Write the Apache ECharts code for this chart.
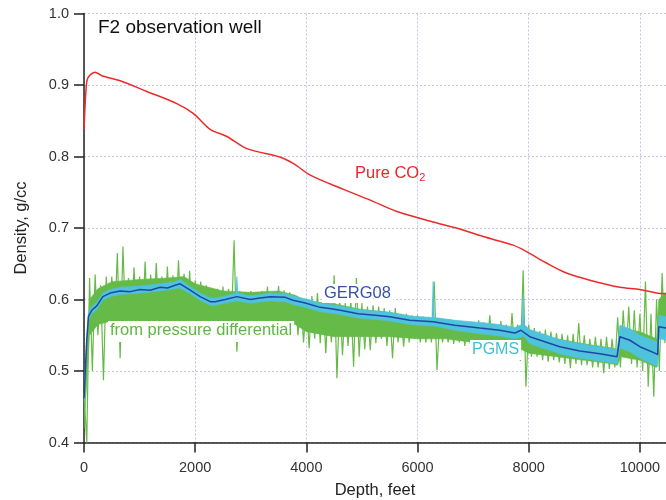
<!DOCTYPE html>
<html>
<head>
<meta charset="utf-8">
<script src="https://cdn.jsdelivr.net/npm/echarts@6/dist/echarts.min.js"></script>
<style>
html,body{margin:0;padding:0;background:#fff;}
#main{width:666px;height:500px;}
</style>
</head>
<body>
<div id="main"></div>
<script>
// Pure CO2 curve (depth ft, density g/cc)
var co2Depth = [0, 36, 70, 200, 320, 650, 1130, 1670, 1970, 2270, 2570, 2930, 3530, 3770, 4070, 4670, 5150, 5630, 6350, 6700, 7180, 7720, 7960, 8320, 8680, 9100, 9640, 10000, 10300, 10470];
var co2Density = [0.837, 0.893, 0.910, 0.918, 0.913, 0.906, 0.891, 0.874, 0.860, 0.838, 0.828, 0.811, 0.799, 0.790, 0.774, 0.754, 0.739, 0.723, 0.707, 0.700, 0.688, 0.676, 0.667, 0.651, 0.637, 0.627, 0.617, 0.614, 0.609, 0.608];

// GERG08
var gergDepth = [0, 50, 80, 140, 230, 340, 470, 650, 830, 1010, 1190, 1370, 1500, 1640, 1730, 1910, 2090, 2270, 2360, 2540, 2750, 2990, 3170, 3350, 3620, 3760, 3980, 4250, 4450, 4610, 4930, 5240, 5500, 5860, 6280, 6670, 7120, 7480, 7750, 7860, 8020, 8290, 8560, 8920, 9280, 9590, 9640, 9820, 10000, 10270, 10320, 10340, 10470];
var gergDensity = [0.462, 0.543, 0.576, 0.585, 0.591, 0.604, 0.609, 0.612, 0.611, 0.614, 0.613, 0.617, 0.616, 0.620, 0.622, 0.613, 0.604, 0.597, 0.597, 0.600, 0.604, 0.600, 0.602, 0.604, 0.603, 0.599, 0.595, 0.589, 0.587, 0.585, 0.580, 0.578, 0.576, 0.571, 0.569, 0.564, 0.560, 0.557, 0.553, 0.557, 0.548, 0.541, 0.534, 0.528, 0.524, 0.520, 0.548, 0.543, 0.534, 0.525, 0.523, 0.562, 0.560];

// PGMS band (low / high edge)
var pgmsDepth = [0, 50, 80, 140, 230, 340, 470, 650, 1010, 1370, 1640, 1730, 1910, 2090, 2270, 2360, 2540, 2730, 2750, 2770, 2990, 3350, 3620, 3760, 3980, 4250, 4610, 4930, 5240, 5500, 5860, 6260, 6280, 6300, 6670, 7120, 7480, 7750, 7880, 7900, 7920, 8020, 8290, 8560, 8920, 9280, 9590, 9640, 9820, 10000, 10270, 10320, 10340, 10470];
var pgmsLow = [0.455, 0.535, 0.570, 0.580, 0.586, 0.599, 0.604, 0.607, 0.609, 0.612, 0.615, 0.616, 0.608, 0.599, 0.592, 0.592, 0.595, 0.598, 0.598, 0.598, 0.595, 0.598, 0.597, 0.593, 0.589, 0.583, 0.579, 0.574, 0.572, 0.570, 0.565, 0.563, 0.563, 0.563, 0.557, 0.552, 0.549, 0.545, 0.548, 0.548, 0.548, 0.538, 0.531, 0.524, 0.518, 0.514, 0.510, 0.532, 0.527, 0.518, 0.508, 0.506, 0.545, 0.543];
var pgmsHigh = [0.468, 0.550, 0.582, 0.590, 0.596, 0.609, 0.614, 0.617, 0.619, 0.622, 0.625, 0.628, 0.618, 0.609, 0.602, 0.602, 0.605, 0.609, 0.632, 0.609, 0.605, 0.609, 0.608, 0.605, 0.601, 0.595, 0.591, 0.586, 0.584, 0.582, 0.577, 0.575, 0.625, 0.575, 0.571, 0.568, 0.565, 0.561, 0.565, 0.604, 0.565, 0.558, 0.551, 0.544, 0.538, 0.534, 0.530, 0.564, 0.559, 0.550, 0.542, 0.540, 0.578, 0.576];

// from pressure differential: dense core of the noise band
var coreDepth = [0, 100, 250, 500, 1000, 1500, 1800, 2000, 2500, 3000, 3500, 3800, 4000, 4500, 5000, 5500, 6000, 6500, 7000, 7500, 7800, 8000, 8500, 9000, 9500, 9600, 9650, 10000, 10300, 10340, 10470];
var coreHigh = [0.46, 0.60, 0.615, 0.625, 0.628, 0.63, 0.632, 0.622, 0.612, 0.61, 0.612, 0.606, 0.598, 0.594, 0.586, 0.582, 0.575, 0.572, 0.566, 0.562, 0.558, 0.552, 0.545, 0.538, 0.532, 0.53, 0.56, 0.555, 0.545, 0.60, 0.61];
var coreLow = [0.42, 0.55, 0.565, 0.57, 0.57, 0.57, 0.57, 0.57, 0.57, 0.57, 0.57, 0.565, 0.555, 0.548, 0.548, 0.548, 0.545, 0.545, 0.54, 0.537, 0.533, 0.525, 0.52, 0.515, 0.51, 0.508, 0.52, 0.515, 0.505, 0.545, 0.55];

// from pressure differential: upper / lower swing every 100 ft
var greenStep = 100;
var greenHi = [
	0.47, 0.63, 0.635, 0.62, 0.632, 0.632, 0.665, 0.674, 0.63, 0.645,
	0.632, 0.653, 0.635, 0.651, 0.632, 0.646, 0.634, 0.655, 0.636, 0.64,
	0.627, 0.625, 0.62, 0.615, 0.615, 0.618, 0.615, 0.683, 0.612, 0.61,
	0.612, 0.608, 0.612, 0.618, 0.61, 0.619, 0.613, 0.61, 0.605, 0.60,
	0.60, 0.605, 0.609, 0.60, 0.605, 0.634, 0.60, 0.595, 0.60, 0.63,
	0.595, 0.59, 0.592, 0.59, 0.588, 0.585, 0.588, 0.58, 0.58, 0.578,
	0.578, 0.576, 0.575, 0.625, 0.574, 0.572, 0.572, 0.57, 0.57, 0.568,
	0.568, 0.571, 0.568, 0.578, 0.565, 0.57, 0.565, 0.581, 0.565, 0.641,
	0.565, 0.56, 0.556, 0.558, 0.555, 0.553, 0.552, 0.55, 0.552, 0.567,
	0.55, 0.545, 0.548, 0.545, 0.548, 0.545, 0.575, 0.585, 0.59, 0.585,
	0.58, 0.625, 0.58, 0.60, 0.637
];
var greenLo = [
	0.40, 0.50, 0.55, 0.487, 0.56, 0.565, 0.518, 0.565, 0.565, 0.56,
	0.565, 0.56, 0.565, 0.565, 0.56, 0.565, 0.565, 0.565, 0.56, 0.565,
	0.565, 0.56, 0.565, 0.565, 0.56, 0.565, 0.56, 0.527, 0.565, 0.56,
	0.565, 0.56, 0.565, 0.56, 0.565, 0.56, 0.56, 0.555, 0.55, 0.54,
	0.532, 0.545, 0.539, 0.525, 0.54, 0.49, 0.522, 0.535, 0.506, 0.52,
	0.53, 0.529, 0.539, 0.545, 0.535, 0.518, 0.54, 0.534, 0.54, 0.545,
	0.54, 0.54, 0.54, 0.501, 0.54, 0.54, 0.538, 0.54, 0.535, 0.538,
	0.535, 0.535, 0.532, 0.53, 0.53, 0.528, 0.525, 0.52, 0.514, 0.478,
	0.52, 0.52, 0.515, 0.513, 0.515, 0.512, 0.51, 0.504, 0.51, 0.508,
	0.508, 0.505, 0.505, 0.497, 0.503, 0.505, 0.505, 0.52, 0.51, 0.505,
	0.50, 0.478, 0.464, 0.50, 0.539
];

var xTicks = [0, 2000, 4000, 6000, 8000, 10000];
var yTicks = [0.4, 0.5, 0.6, 0.7, 0.8, 0.9, 1.0];

var FONT = 'Liberation Sans, Arial, Helvetica, sans-serif';
var GREEN = '#66bb48';
var CYAN = '#4fc3dc';

function pairs(xs, ys){
	var out = [];
	for(var i = 0; i < xs.length; i++){
		out.push([xs[i], ys[i]]);
	}
	return out;
}

// zigzag between the upper and lower swing
var greenData = [];
for(var i = 0; i < greenHi.length; i++){
	greenData.push([i * greenStep, greenHi[i]]);
	greenData.push([i * greenStep + greenStep / 2, greenLo[i]]);
}

// band drawn as one polygon: high edge forward, low edge back
function bandRenderer(xs, hi, lo, color){
	return function(params, api){
		var pts = [];
		for(var k = 0; k < xs.length; k++){
			pts.push(api.coord([xs[k], hi[k]]));
		}
		for(var m = xs.length - 1; m >= 0; m--){
			pts.push(api.coord([xs[m], lo[m]]));
		}
		return {
			type: 'polygon',
			shape: {points: pts},
			style: {fill: color, stroke: color, lineWidth: 0.6}
		};
	};
}

var chart = echarts.init(document.getElementById('main'));

var option = {
	backgroundColor: '#fff',
	animation: false,
	grid: {left: 84, right: 0, top: 13.5, bottom: 57.5, containLabel: false, outerBoundsMode: 'none'},
	xAxis: {
		type: 'value',
		min: 0,
		max: 10470,
		interval: 2000,
		name: 'Depth, feet',
		nameLocation: 'middle',
		nameGap: 39,
		nameTextStyle: {fontFamily: FONT, fontSize: 16.5, color: '#222'},
		axisLine: {lineStyle: {color: '#222', width: 1.5}},
		axisTick: {show: true, inside: false, length: 10, lineStyle: {color: '#222', width: 1.5}},
		axisLabel: {
			fontFamily: FONT, fontSize: 14.5, color: '#333', margin: 18,
			showMaxLabel: false,
			formatter: function(v){ return xTicks.indexOf(v) >= 0 ? String(v) : ''; }
		},
		splitLine: {show: true, lineStyle: {color: '#c4c4e6', type: [2, 2], width: 1}}
	},
	yAxis: {
		type: 'value',
		min: 0.4,
		max: 1.0,
		interval: 0.1,
		name: 'Density, g/cc',
		nameLocation: 'middle',
		nameGap: 54,
		nameTextStyle: {fontFamily: FONT, fontSize: 16.5, color: '#222'},
		axisLine: {show: true, lineStyle: {color: '#222', width: 1.5}},
		axisTick: {show: true, inside: false, length: 10, lineStyle: {color: '#222', width: 1.5}},
		axisLabel: {
			fontFamily: FONT, fontSize: 14.5, color: '#333', margin: 15,
			formatter: function(v){ return v.toFixed(1); }
		},
		splitLine: {show: true, lineStyle: {color: '#c4c4e6', type: [2, 2], width: 1}}
	},
	series: [
		{
			name: 'core',
			type: 'custom',
			renderItem: bandRenderer(coreDepth, coreHigh, coreLow, GREEN),
			data: [[0, 0]],
			clip: true,
			silent: true,
			z: 1
		},
		{
			name: 'from pressure differential',
			type: 'line',
			data: greenData,
			showSymbol: false,
			lineStyle: {color: GREEN, width: 1.2},
			z: 2
		},
		{
			name: 'PGMS',
			type: 'custom',
			renderItem: bandRenderer(pgmsDepth, pgmsHigh, pgmsLow, CYAN),
			data: [[0, 0]],
			clip: true,
			z: 3
		},
		{
			name: 'GERG08',
			type: 'line',
			data: pairs(gergDepth, gergDensity),
			showSymbol: false,
			lineStyle: {color: '#2046a4', width: 1.5},
			z: 4
		},
		{
			name: 'Pure CO2',
			type: 'line',
			data: pairs(co2Depth, co2Density),
			showSymbol: false,
			smooth: 0.3,
			lineStyle: {color: '#ec2a2a', width: 1.5},
			z: 5
		}
	],
	graphic: [
		{type: 'text', left: 98, top: 18, z: 100,
			style: {text: 'F2 observation well', font: '19px ' + FONT, fill: '#111'}},
		{type: 'text', left: 355, top: 165, z: 100,
			style: {
				text: 'Pure CO{sub|2}', font: '16.5px ' + FONT, fill: '#e8262a',
				rich: {sub: {fontSize: 11, fontFamily: FONT, fill: '#e8262a', padding: [9, 0, 0, 0]}}
			}},
		{type: 'text', left: 322, top: 284, z: 100,
			style: {text: 'GERG08', font: '16.5px ' + FONT, fill: '#3552a6', backgroundColor: '#fff', padding: [1, 2, 1, 2]}},
		{type: 'text', left: 108, top: 321, z: 100,
			style: {text: 'from pressure differential', font: '16.5px ' + FONT, fill: '#5cb843', backgroundColor: '#fff', padding: [1, 2, 3, 2]}},
		{type: 'text', left: 470, top: 340, z: 100,
			style: {text: 'PGMS', font: '16px ' + FONT, fill: '#3ec2d0', backgroundColor: '#fff', padding: [2, 2, 2, 2]}}
	]
};

chart.setOption(option);
</script>
</body>
</html>
